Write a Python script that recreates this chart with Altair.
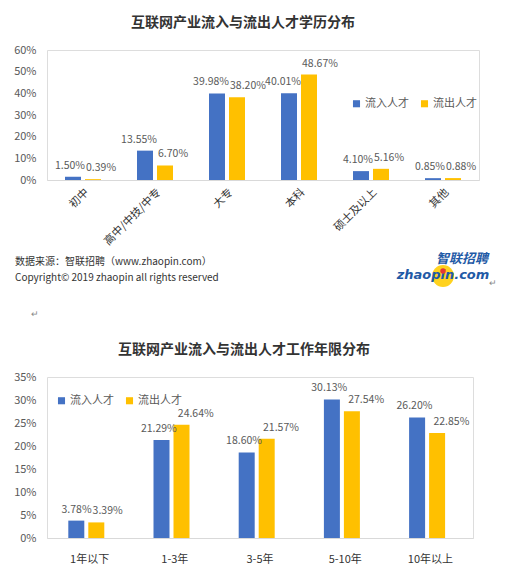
import altair as alt
import pandas as pd

FONT = "Noto Sans CJK SC"

# ---- data ----
series = ["流入人才", "流出人才"]
colors = ["#4472C4", "#FFC000"]

edu_title = "互联网产业流入与流出人才学历分布"
edu_cats = ["初中", "高中/中技/中专", "大专", "本科", "硕士及以上", "其他"]
edu_in = [1.50, 13.55, 39.98, 40.01, 4.10, 0.85]
edu_out = [0.39, 6.70, 38.20, 48.67, 5.16, 0.88]
edu_ticks = [0, 0.1, 0.2, 0.3, 0.4, 0.5, 0.6]

yrs_title = "互联网产业流入与流出人才工作年限分布"
yrs_cats = ["1年以下", "1-3年", "3-5年", "5-10年", "10年以上"]
yrs_in = [3.78, 21.29, 18.60, 30.13, 26.20]
yrs_out = [3.39, 24.64, 21.57, 27.54, 22.85]
yrs_ticks = [0, 0.05, 0.10, 0.15, 0.20, 0.25, 0.30, 0.35]

source_lines = ["数据来源：智联招聘（www.zhaopin.com）",
                "Copyright© 2019 zhaopin all rights reserved"]
logo_cn = "智联招聘"
logo_en = "zhaopin.com"
para_mark = "↵"


def long_df(cats, a, b):
    rows = []
    for c, va, vb in zip(cats, a, b):
        rows.append(dict(cat=c, series=series[0], v=va / 100, lab=f"{va:.2f}%"))
        rows.append(dict(cat=c, series=series[1], v=vb / 100, lab=f"{vb:.2f}%"))
    return pd.DataFrame(rows)


def panel(df, cats, ticks, width, height, title, title_dx, lx, ly, angle, xpad):
    x = alt.X("cat:N", sort=cats,
              scale=alt.Scale(paddingInner=0.5, paddingOuter=0.25),
              axis=alt.Axis(title=None, labelAngle=angle, labelPadding=xpad,
                            labelFont=FONT, labelFontSize=11, labelColor="#333333",
                            ticks=False, domainColor="#D9D9D9", domainWidth=1))
    y = alt.Y("v:Q", scale=alt.Scale(domain=[ticks[0], ticks[-1]], nice=False),
              axis=alt.Axis(title=None, format=".0%", values=ticks, grid=False,
                            domain=False, ticks=False, labelPadding=11,
                            labelFont=FONT, labelFontSize=11, labelColor="#595959"))
    color = alt.Color("series:N", sort=series,
                      scale=alt.Scale(domain=series, range=colors),
                      legend=alt.Legend(title=None, orient="none", legendX=lx, legendY=ly,
                                        direction="horizontal", symbolType="square",
                                        symbolSize=50, symbolStrokeWidth=0,
                                        labelFont=FONT, labelFontSize=11,
                                        labelColor="#595959", columnPadding=10,
                                        labelOffset=3, padding=0))
    xo = alt.XOffset("series:N", sort=series, scale=alt.Scale(paddingInner=0.2))

    base = alt.Chart(df)
    bars = base.mark_bar().encode(x=x, y=y, color=color, xOffset=xo)
    txt_kw = dict(font=FONT, fontSize=10.5, color="#595959", baseline="alphabetic", dy=-8)
    lab_l = base.transform_filter(f"datum.series == '{series[0]}'").mark_text(
        align="right", dx=2, **txt_kw).encode(x=x, y=y, text="lab:N")
    lab_r = base.transform_filter(f"datum.series == '{series[1]}'").mark_text(
        align="left", dx=3, **txt_kw).encode(x=x, y=y, text="lab:N")

    return alt.layer(bars, lab_l, lab_r).properties(
        width=width, height=height,
        title=alt.TitleParams(title, font=FONT, fontSize=14, fontWeight="bold",
                              color="#333333", dx=title_dx, offset=14, anchor="middle"),
    )


def note(text, x, y, **kw):
    return alt.Chart(pd.DataFrame({"t": [text]})).mark_text(**kw).encode(
        text="t:N", x=alt.value(x), y=alt.value(y))


edu_df = long_df(edu_cats, edu_in, edu_out)
yrs_df = long_df(yrs_cats, yrs_in, yrs_out)

c1 = panel(edu_df, edu_cats, edu_ticks, 432, 130, edu_title, -20, 304, 48, 315, 6)

annot = [
    note(source_lines[0], -32, 212, font=FONT, fontSize=10, color="#333333", align="left"),
    note(source_lines[1], -32, 228, font=FONT, fontSize=10, color="#333333", align="left"),
    alt.Chart(pd.DataFrame({"t": [1]})).mark_circle(color="#FFD21F", opacity=1, size=480).encode(
        x=alt.value(396), y=alt.value(226)),
    note(logo_cn, 415, 209, font=FONT, fontSize=13, fontWeight="bold", fontStyle="italic",
         color="#1F5AA6"),
    note(logo_en, 396, 225, font="DejaVu Sans", fontSize=13, fontWeight="bold",
         fontStyle="italic", color="#1F5AA6"),
    alt.Chart(pd.DataFrame({"t": [1]})).mark_circle(color="#E53935", opacity=1, size=30).encode(
        x=alt.value(396), y=alt.value(221)),
    note(para_mark, 446, 233, font=FONT, fontSize=9, color="#888888"),
    note(para_mark, -12, 264, font=FONT, fontSize=9, color="#888888"),
]
c1 = alt.layer(c1, *annot)

c2 = panel(yrs_df, yrs_cats, yrs_ticks, 426, 161, yrs_title, -16, 9, 18, 0, 15)

chart = alt.vconcat(c1, c2, spacing=197, bounds="flush").resolve_legend(
    color="independent"
).properties(
    padding={"left": 5, "top": 7, "right": 5, "bottom": 5}
).configure_view(stroke=None).configure(font=FONT)

chart.save("out.html", embed_options={"renderer": "svg", "actions": False})
